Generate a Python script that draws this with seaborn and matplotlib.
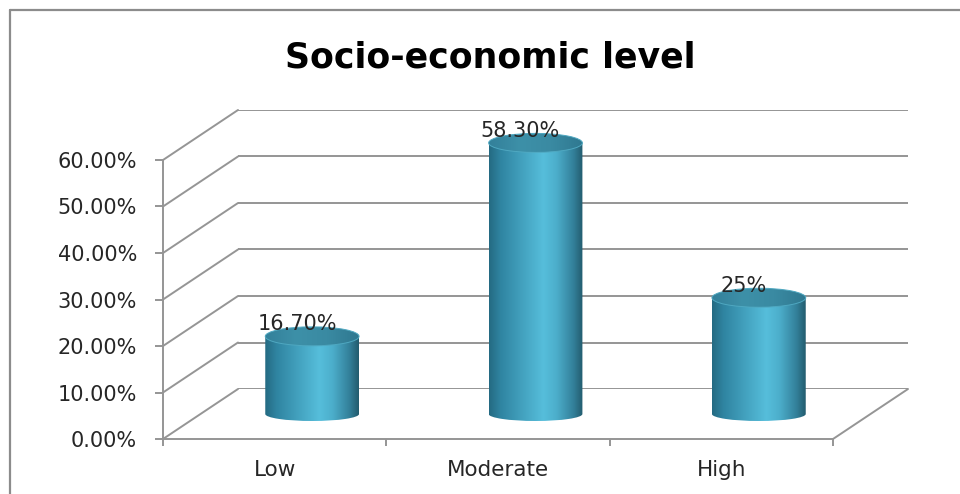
import matplotlib
matplotlib.use("Agg")
import matplotlib.pyplot as plt
import seaborn as sns
from matplotlib.patches import Ellipse, PathPatch, ConnectionPatch
from matplotlib.path import Path
from matplotlib.transforms import Affine2D
from matplotlib.colors import LinearSegmentedColormap
from matplotlib.lines import Line2D
import numpy as np

# ---- data ----
categories = ["Low", "Moderate", "High"]
values = [16.7, 58.3, 25.0]
value_labels = ["16.70%", "58.30%", "25%"]
y_ticks = [0, 10, 20, 30, 40, 50, 60]
y_tick_labels = [f"{t:.2f}%" for t in y_ticks]
title = "Socio-economic level"

sns.set_theme(style="white")
plt.rcParams["font.family"] = ["DejaVu Sans"]

W, H = 960, 494
fig = plt.figure(figsize=(W / 100, H / 100), dpi=100, facecolor="white")

# front plane of the pseudo-3D box, in pixels (bottom measured from top)
FL, FB, AW, AH = 163, 439, 670, 279
DX, DY = 75, 50          # depth offset of the back wall
GRID = "#959595"
TEXT = "#262626"
YMAX = 60


def add_plane(dx, dy, z):
    ax = fig.add_axes([(FL + dx) / W, (H - FB + dy) / H, AW / W, AH / H])
    ax.set_zorder(z)
    ax.patch.set_alpha(0)
    return ax


ax_back = add_plane(DX, DY, 0)
ax_front = add_plane(0, 0, 1)
ax_mid = add_plane(DX / 2, DY / 2, 2)

# ---- back wall gridlines ----
ax_back.set_xlim(-0.5, len(categories) - 0.5)
ax_back.set_ylim(0, YMAX)
ax_back.axis("off")
for t in y_ticks:
    ax_back.axhline(t, color=GRID, lw=1.4)

# ---- side wall and floor edges ----
corners = [(-0.5, t) for t in y_ticks] + [(len(categories) - 0.5, 0)]
for pt in corners:
    cp = ConnectionPatch(pt, pt, coordsA=ax_front.transData, coordsB=ax_back.transData,
                         color=GRID, lw=1.4, zorder=0.5)
    fig.add_artist(cp)

# ---- front axis ----
ax_front.set_xlim(-0.5, len(categories) - 0.5)
ax_front.set_ylim(0, YMAX)
for s in ["top", "right"]:
    ax_front.spines[s].set_visible(False)
for s in ["left", "bottom"]:
    ax_front.spines[s].set_color(GRID)
    ax_front.spines[s].set_linewidth(1.4)
ax_front.set_yticks(y_ticks, y_tick_labels)
ax_front.tick_params(axis="y", length=5.8, width=1.4, color=GRID, pad=13,
                     labelsize=15, labelcolor=TEXT, left=True)
ax_front.set_xticks(range(len(categories)), categories)
ax_front.set_xticks(np.arange(-0.5, len(categories)), minor=True)
ax_front.tick_params(axis="x", which="major", length=0, pad=15,
                     labelsize=15.5, labelcolor=TEXT)
ax_front.tick_params(axis="x", which="minor", length=5, width=1.4, color=GRID,
                     bottom=True)
ax_front.grid(False)

# ---- cylinders ----
sns.barplot(x=categories, y=values, ax=ax_mid, width=0.42, color="#4bb2cf",
            saturation=1)
ax_mid.axis("off")

side_cmap = LinearSegmentedColormap.from_list(
    "cyl",
    [(0.0, "#246a82"), (0.12, "#2f84a1"), (0.58, "#56bedb"),
     (0.72, "#4caecb"), (0.9, "#33809a"), (1.0, "#235c6e")])
top_cmap = LinearSegmentedColormap.from_list(
    "cyltop", ["#33809a", "#3d90a8", "#3a8aa2", "#2f7890"])
eh_top = 19 * YMAX / AH      # top ellipse height in data units
eh_bot = 14 * YMAX / AH      # lower rim ellipse height
shade = np.linspace(0, 1, 256).reshape(1, -1)

for p, lab in zip(list(ax_mid.patches), value_labels):
    x0, w, h = p.get_x(), p.get_width(), p.get_height()
    cx, x1 = x0 + w / 2, x0 + w
    p.set_facecolor("none")
    p.set_edgecolor("none")

    # side of the cylinder: straight walls plus the rounded lower rim
    arc = Path.arc(180, 360)
    arc_v = Affine2D().scale(w / 2, eh_bot / 2).translate(cx, 0).transform(arc.vertices)
    verts = [(x0, h)] + list(map(tuple, arc_v)) + [(x1, h), (x0, h)]
    codes = [Path.MOVETO] + [Path.LINETO] + list(arc.codes[1:]) + [Path.LINETO, Path.CLOSEPOLY]
    side = PathPatch(Path(verts, codes), transform=ax_mid.transData,
                     facecolor="none", edgecolor="none", clip_on=False)
    ax_mid.add_patch(side)
    im = ax_mid.imshow(shade, cmap=side_cmap, aspect="auto",
                       extent=[x0, x1, -eh_bot / 2, h], interpolation="bilinear",
                       zorder=3)
    im.set_clip_box(fig.bbox)
    im.set_clip_path(side)

    # top face
    top = Ellipse((cx, h), w, eh_top, facecolor="none", edgecolor="none",
                  clip_on=False)
    ax_mid.add_patch(top)
    imt = ax_mid.imshow(shade, cmap=top_cmap, aspect="auto",
                        extent=[x0, x1, h - eh_top / 2, h + eh_top / 2],
                        interpolation="bilinear", zorder=4)
    imt.set_clip_box(fig.bbox)
    imt.set_clip_path(top)
    ax_mid.add_patch(Ellipse((cx, h), w, eh_top, facecolor="none",
                             edgecolor="#4fa8c1", lw=0.7, zorder=4.5, clip_on=False))

    ax_mid.annotate(lab, xy=(cx, h), xytext=(-15, 6), textcoords="offset pixels",
                    ha="center", va="baseline", fontsize=15, color=TEXT, zorder=5,
                    annotation_clip=False)

ax_mid.set_xlim(-0.5, len(categories) - 0.5)
ax_mid.set_ylim(0, YMAX)

# ---- title and frame ----
fig.text(490 / W, 1 - 67 / H, title, ha="center", va="baseline",
         fontsize=25, fontweight="bold", color="black")
fig.add_artist(Line2D([10 / W, 1], [1 - 10 / H] * 2, transform=fig.transFigure,
                      color="#8c8c8c", lw=1.6))
fig.add_artist(Line2D([10 / W] * 2, [0, 1 - 10 / H], transform=fig.transFigure,
                      color="#8c8c8c", lw=1.6))

fig.savefig("out.png", dpi=100, facecolor="white")
